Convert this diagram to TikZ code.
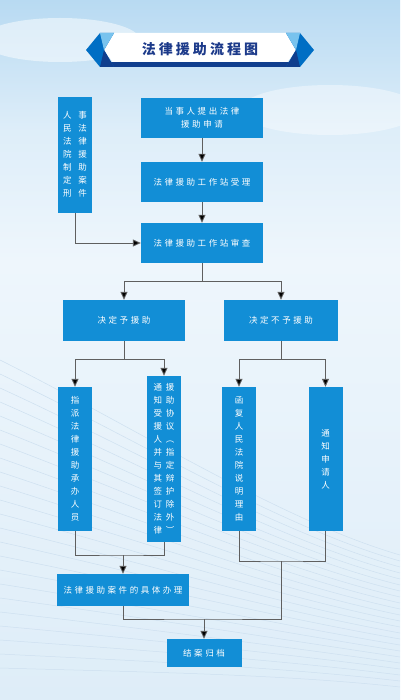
\documentclass[tikz,border=0pt]{standalone}
\usepackage{fontspec}
\usepackage{tikz}
\usetikzlibrary{arrows.meta,calc}
\newfontfamily\cjk[LetterSpace=30]{Noto Sans CJK SC}
\newfontfamily\cjkt[LetterSpace=22]{Noto Sans CJK SC}
\newfontfamily\cjkv{Noto Sans CJK SC}
\definecolor{boxblue}{RGB}{18,142,214}
\definecolor{navy}{RGB}{16,62,142}
\definecolor{midblue}{RGB}{0,110,196}
\definecolor{lightblue}{RGB}{120,195,238}
\definecolor{titleblue}{RGB}{28,58,138}
\definecolor{skytop}{RGB}{184,218,242}
\definecolor{skymid}{RGB}{238,246,252}
\definecolor{skylow}{RGB}{222,237,248}
\definecolor{wline}{RGB}{206,224,240}
\definecolor{conn}{RGB}{95,95,95}

\begin{document}
\begin{tikzpicture}[x=1pt,y=-1pt,
  hbox/.style={fill=boxblue,text=white,inner sep=0pt,align=center,
    font=\cjk\fontsize{8.5}{13}\selectfont},
  vbox/.style={fill=boxblue,text=white,inner sep=0pt,align=center,
    minimum width=34pt,font=\cjkv\fontsize{8.5}{13}\selectfont},
  line/.style={draw=conn,line width=0.9pt},
  arr/.style={line,-{Triangle[width=7pt,length=8pt,fill=black]}}]
  \useasboundingbox (0,0) rectangle (400,700);
  % background
  \begin{scope}
    \clip (0,0) rectangle (400,700);
    \shade[top color=skytop,bottom color=skymid,middle color=skymid!70!skytop] (0,0) rectangle (400,260);
    \shade[top color=skymid,bottom color=skylow] (0,260) rectangle (400,700);
    \foreach \i in {0,...,22}{
      \draw[wline,line width=0.5pt] (0,360+\i*14) .. controls (140,430+\i*11) and (280,520+\i*7) .. (400,555+\i*6);
    }
    \fill[white,opacity=0.5] (60,40) ellipse (80 and 22);
    \fill[white,opacity=0.4] (330,110) ellipse (90 and 25);
  \end{scope}

  % title banner
  \fill[white] (104,50) -- (114,33) -- (286,33) -- (296,50) -- (286,64) -- (114,64) -- cycle;
  \fill[navy] (110,62) rectangle (290,67);
  \fill[midblue] (86,50) -- (100,33) -- (114,33) -- (104,50) -- (114,67) -- (100,67) -- cycle;
  \fill[lightblue] (100,33) -- (114,33) -- (104,50) -- cycle;
  \fill[navy] (100,67) -- (114,67) -- (104,50) -- cycle;
  \fill[midblue] (314,50) -- (300,33) -- (286,33) -- (296,50) -- (286,67) -- (300,67) -- cycle;
  \fill[lightblue] (300,33) -- (286,33) -- (296,50) -- cycle;
  \fill[navy] (300,67) -- (286,67) -- (296,50) -- cycle;
  \node[font=\cjkt\bfseries\fontsize{14}{14}\selectfont,text=titleblue] (title) at (200,49) {法律援助流程图};

  % boxes
  \node[vbox,minimum height=116pt] (court) at (75,155)
    {\begin{tabular}{@{}c@{\hspace{7pt}}c@{}}人&事\\民&法\\法&律\\院&援\\制&助\\定&案\\刑&件\end{tabular}};
  \node[hbox,minimum width=122pt,minimum height=40pt] (apply) at (202,118) {当事人提出法律\\援助申请};
  \node[hbox,minimum width=122pt,minimum height=40pt] (accept) at (202,182) {法律援助工作站受理};
  \node[hbox,minimum width=122pt,minimum height=40pt] (review) at (202,243) {法律援助工作站审查};
  \node[hbox,minimum width=122pt,minimum height=41pt] (grant) at (124,320.5) {决定予援助};
  \node[hbox,minimum width=114pt,minimum height=41pt] (deny) at (281,320.5) {决定不予援助};
  \node[vbox,minimum height=144pt] (assign) at (75,459)
    {指\\派\\法\\律\\援\\助\\承\\办\\人\\员};
  \node[vbox,minimum height=166pt] (sign) at (164,459)
    {\begin{tabular}{@{}c@{\hspace{4pt}}c@{}}通&援\\知&助\\受&协\\援&议\\人&︵\\并&指\\与&定\\其&辩\\签&护\\订&除\\法&外\\律&︶\end{tabular}};
  \node[vbox,minimum height=144pt] (reply) at (239,459)
    {函\\复\\人\\民\\法\\院\\说\\明\\理\\由};
  \node[vbox,minimum height=144pt] (notice) at (325.5,459)
    {通\\知\\申\\请\\人};
  \node[hbox,minimum width=132pt,minimum height=32pt] (handle) at (123,590) {法律援助案件的具体办理};
  \node[hbox,minimum width=75pt,minimum height=28pt] (close) at (204,653) {结案归档};

  % connectors
  \draw[arr] (apply) -- (accept);
  \draw[arr] (accept) -- (review);
  \draw[arr] (court.south) |- (review.west);
  \draw[arr] (review.south) -- ++(0,18) -| (grant.north);
  \draw[arr] (review.south) -- ++(0,18) -| (deny.north);
  \draw[arr] (grant.south) -- ++(0,18) -| (assign.north);
  \draw[arr] (grant.south) -- ++(0,18) -| (sign.north);
  \draw[arr] (deny.south) -- ++(0,18) -| (reply.north);
  \draw[arr] (deny.south) -- ++(0,18) -| (notice.north);
  \coordinate (joinL) at (123,555);
  \coordinate (joinR) at (281,561);
  \coordinate (joinB) at (204,619);
  \draw[line] (assign.south) |- (joinL) -| (sign.south);
  \draw[arr] (joinL) -- (handle.north);
  \draw[line] (reply.south) |- (joinR) -| (notice.south);
  \draw[line] (handle.south) |- (joinB) -| (joinR);
  \draw[arr] (joinB) -- (close.north);
\end{tikzpicture}
\end{document}
